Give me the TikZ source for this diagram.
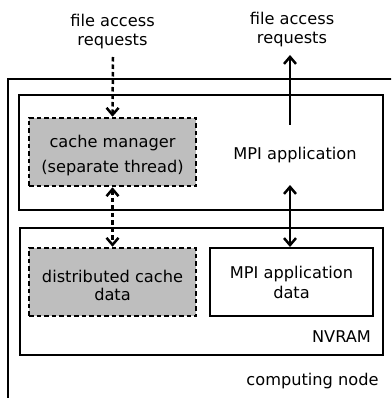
\documentclass[tikz,border=0pt]{standalone}
\usepackage{fontspec}
\setmainfont{DejaVu Sans}
\usetikzlibrary{arrows.meta}
\definecolor{boxgray}{RGB}{190,190,190}
\begin{document}
\begin{tikzpicture}[x=1pt,y=-1pt,
  every node/.style={font=\fontsize{16.2}{20}\selectfont},
  frame/.style={draw,line width=2.5pt,rectangle,inner sep=0pt},
  dashbox/.style={draw,line width=2.5pt,dash pattern=on 4.5pt off 3pt,fill=boxgray,rectangle,inner sep=0pt,align=center},
  solidbox/.style={draw,line width=2.5pt,rectangle,inner sep=0pt,align=center},
  lbl/.style={align=center,inner sep=0pt},
  tip/.style={arrows={-Straight Barb[length=7pt,width=12pt,line width=2.5pt]}},
  dtip/.style={arrows={Straight Barb[length=7pt,width=12pt,line width=2.5pt]-Straight Barb[length=7pt,width=12pt,line width=2.5pt]}},
  conn/.style={line width=2.5pt},
  dconn/.style={line width=2.5pt,dash pattern=on 4.5pt off 3pt}]
\useasboundingbox (0,0) rectangle (391,398);
\clip (0,0) rectangle (391,398);
% outer computing node box (extends beyond the picture)
\draw[line width=2.5pt] (8,410) -- (8,79) -- (410,79);
% boxes
\node[frame,minimum width=364pt,minimum height=115pt] (app) at (201,152.5) {};
\node[frame,minimum width=363pt,minimum height=127pt] (nvram) at (201.5,291.5) {};
\node[dashbox,minimum width=167pt,minimum height=68pt] (mgr) at (112.5,152) {\rule{0pt}{20.2pt}cache manager\\[5pt](separate thread)};
\node[dashbox,minimum width=167pt,minimum height=68pt] (dist) at (112.5,282) {\rule{0pt}{19.1pt}distributed cache\\[-1.5pt]data};
\node[solidbox,minimum width=163pt,minimum height=68pt] (appdata) at (291.5,282) {MPI application\\data};
% labels
\node[lbl] (apptxt) at (295,155) {MPI application};
\node[lbl] (nvlbl) at (341.5,337) {NVRAM};
\node[lbl] (cnlbl) at (312.5,381.5) {computing node};
\node[lbl] (req1) at (112.5,31.7) {file access\\[-1pt]requests};
\node[lbl] (req2) at (292,29.3) {file access\\[-1pt]requests};
% coordinates
\coordinate (dstart) at (113,57);
\coordinate (upstart) at (290,125);
\coordinate (uptip) at (290,55);
\coordinate (dtop) at (290,185);
\coordinate (dbot) at (290,247);
% connectors
\draw[dconn,tip] (dstart) -- (mgr.north);
\draw[dconn,dtip] (mgr.south) -- (dist.north);
\draw[conn,tip] (upstart) -- (uptip);
\draw[conn,dtip] (dtop) -- (dbot);
\end{tikzpicture}
\end{document}
